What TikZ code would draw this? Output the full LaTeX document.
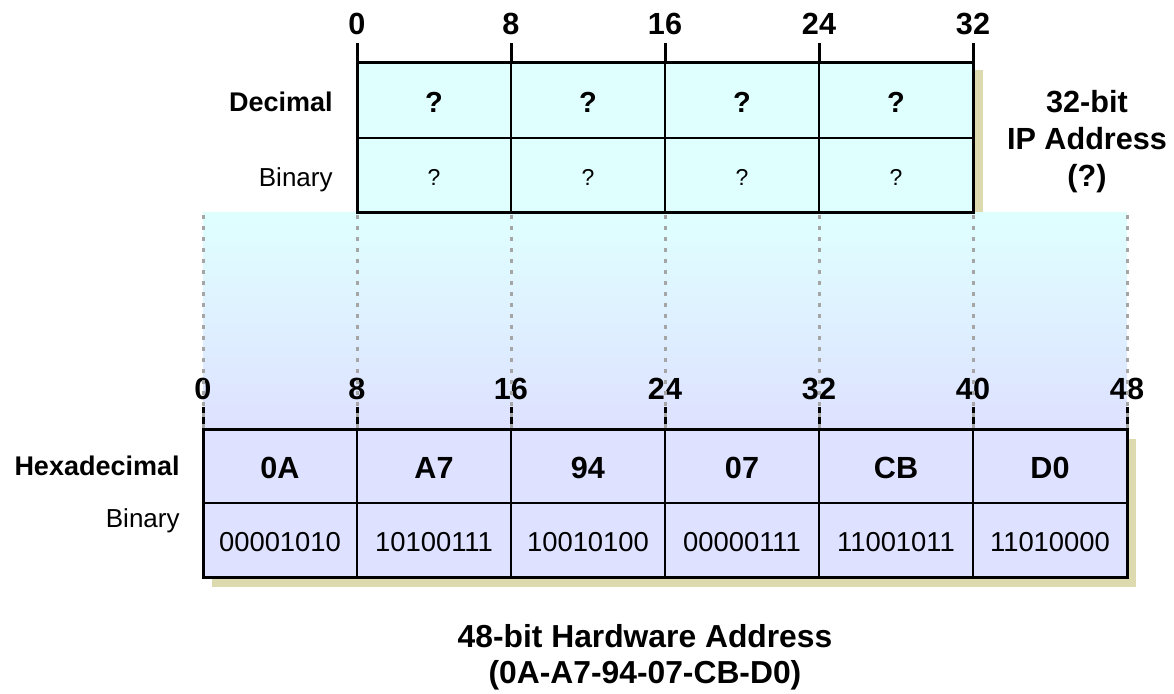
\documentclass[tikz,border=0pt]{standalone}
\usepackage{fontspec}
\setmainfont{Liberation Sans}
\usetikzlibrary{calc}
\definecolor{ipfill}{RGB}{223,255,255}
\definecolor{hwfill}{RGB}{222,225,255}
\definecolor{shadowtan}{RGB}{220,218,174}
\definecolor{guidegray}{RGB}{165,165,165}

\begin{document}
\begin{tikzpicture}[x=0.5pt,y=-0.5pt,
  frame/.style={line width=1.5pt},
  divider/.style={line width=0.75pt},
  tick/.style={line width=1.5pt},
  guide/.style={guidegray,line width=1.5pt,dash pattern=on 2pt off 3.5pt},
  txt/.style={inner sep=0pt,anchor=base},
  bitnum/.style={txt,font=\fontsize{15.3}{18}\selectfont\bfseries},
  rowlab/.style={txt,anchor=base east,font=\fontsize{13.5}{16}\selectfont\bfseries},
  rowlabplain/.style={txt,anchor=base east,font=\fontsize{13}{16}\selectfont},
  hexval/.style={txt,font=\fontsize{15.3}{18}\selectfont\bfseries},
  binval/.style={txt,font=\fontsize{13.7}{16}\selectfont},
  qbold/.style={txt,font=\fontsize{14.5}{17}\selectfont\bfseries},
  qplain/.style={txt,font=\fontsize{11.5}{14}\selectfont},
  caption/.style={txt,font=\fontsize{15.3}{18}\selectfont\bfseries},
  hwcaption/.style={txt,font=\fontsize{15.9}{18}\selectfont\bfseries}]
\useasboundingbox (0,0) rectangle (1174,694);
% ---------------- shadows and the band between the two boxes ----------------
\fill[shadowtan] (367,70) rectangle (983,222);
\fill[shadowtan] (212,439) rectangle (1136,587);
\shade[top color=ipfill,bottom color=hwfill] (203,213) rectangle (1127,430);
% ---------------- top box: 32-bit IP address ----------------
\fill[ipfill] (357,63) rectangle (973,213);
\draw[divider] (357,138) -- (973,138);
\foreach \i in {1,2,3} \draw[divider] (357+154*\i,63) -- (357+154*\i,213);
\draw[frame] (357,63) rectangle (973,213);
\foreach \b [count=\i from 0] in {0,8,16,24,32} {
  \draw[tick] (357+154*\i,43) -- (357+154*\i,63);
  \node[bitnum] (ipbit\b) at (357+154*\i,35) {\b};
}
\foreach \i in {0,...,3} {
  \node[qbold] (ipdec\i) at (434+154*\i,113) {?};
  \node[qplain] (ipbin\i) at (434+154*\i,186) {?};
}
\node[rowlab] (declab) at (333,112) {Decimal};
\node[rowlabplain] (ipbinlab) at (333,187) {Binary};
\node[caption] (iptitle1) at (1087,113) {32-bit};
\node[caption] (iptitle2) at (1087,150) {IP Address};
\node[caption] (iptitle3) at (1087,187) {(?)};
% ---------------- bottom box: 48-bit hardware address ----------------
\fill[hwfill] (203,430) rectangle (1127,578);
\draw[divider] (203,503) -- (1127,503);
\foreach \i in {1,...,5} \draw[divider] (203+154*\i,430) -- (203+154*\i,578);
\draw[frame] (203,430) rectangle (1127,578);
\foreach \b [count=\i from 0] in {0,8,16,24,32,40,48} {
  \draw[tick] (203+154*\i,407) -- (203+154*\i,430);
  \node[bitnum] (hwbit\b) at (203+154*\i,400) {\b};
}
\foreach \h/\bits [count=\i from 0] in {0A/00001010,A7/10100111,94/10010100,07/00000111,CB/11001011,D0/11010000} {
  \node[hexval] (hwhex\i) at (280+154*\i,479) {\h};
  \node[binval] (hwbin\i) at (280+154*\i,552) {\bits};
}
\node[rowlab] (hexlab) at (180,476) {Hexadecimal};
\node[rowlabplain] (hwbinlab) at (180,528) {Binary};
\node[hwcaption] (hwtitle1) at (645,648) {48-bit Hardware Address};
\node[hwcaption] (hwtitle2) at (645,684) {(0A-A7-94-07-CB-D0)};
% dotted guides from the top box down to the bottom box
\foreach \k in {0,...,6} {
  \coordinate (gtop\k) at (203+154*\k,215);
  \coordinate (gbot\k) at (203+154*\k,428);
  \draw[guide] (gtop\k) -- (gbot\k);
}
\end{tikzpicture}
\end{document}
